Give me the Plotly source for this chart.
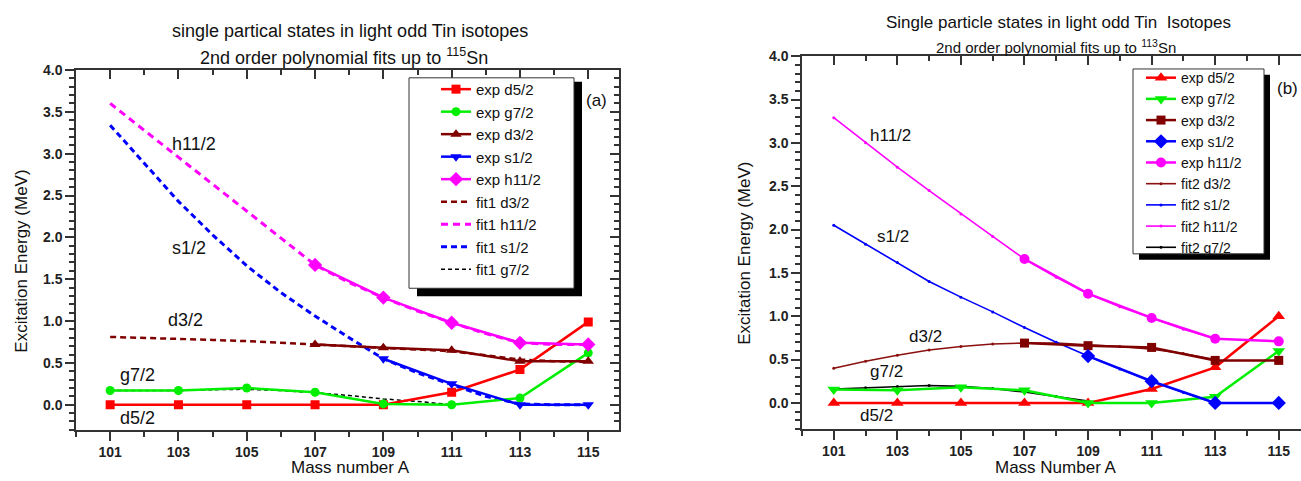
import plotly.graph_objects as go

W, H = 1301, 481

# ---------------- Panel (a) data ----------------
A_exp = [101, 103, 105, 107, 109, 111, 113, 115]
a_exp_d52 = [0.0, 0.0, 0.0, 0.0, 0.0, 0.15, 0.42, 0.99]
a_exp_g72 = [0.17, 0.17, 0.20, 0.15, 0.01, 0.0, 0.08, 0.62]
A_d32 = [107, 109, 111, 113, 115]
a_exp_d32 = [0.72, 0.68, 0.65, 0.52, 0.52]
A_s12 = [109, 111, 113, 115]
a_exp_s12 = [0.55, 0.25, 0.0, 0.0]
A_h112 = [107, 109, 111, 113, 115]
a_exp_h112 = [1.67, 1.28, 0.98, 0.74, 0.72]

A_fit1 = [101, 102, 103, 104, 105, 106, 107, 108, 109, 110, 111, 112, 113, 114, 115]
a_fit1_d32 = [0.81, 0.80, 0.79, 0.775, 0.76, 0.74, 0.72, 0.70, 0.68, 0.66, 0.64, 0.59, 0.54, 0.52, 0.51]
a_fit1_h112 = [3.60, 3.28, 2.96, 2.64, 2.32, 2.00, 1.67, 1.46, 1.28, 1.12, 0.98, 0.85, 0.74, 0.72, 0.72]
a_fit1_s12 = [3.34, 2.88, 2.43, 2.03, 1.66, 1.34, 1.06, 0.80, 0.55, 0.38, 0.24, 0.10, 0.01, 0.0, 0.0]
A_fit1_g72 = [101, 102, 103, 104, 105, 106, 107, 108, 109, 110, 111]
a_fit1_g72 = [0.17, 0.17, 0.17, 0.18, 0.185, 0.17, 0.145, 0.11, 0.07, 0.04, 0.0]

# ---------------- Panel (b) data ----------------
b_exp_d52 = [0.0, 0.0, 0.0, 0.0, 0.0, 0.16, 0.41, 1.0]
b_exp_g72 = [0.155, 0.145, 0.18, 0.145, 0.0, 0.0, 0.07, 0.60]
b_exp_d32 = [0.69, 0.66, 0.64, 0.49, 0.49]
b_exp_s12 = [0.54, 0.25, 0.0, 0.0]
b_exp_h112 = [1.66, 1.26, 0.98, 0.74, 0.71]

A_fit2 = [101, 102, 103, 104, 105, 106, 107, 108, 109, 110, 111, 112, 113]
b_fit2_d32 = [0.40, 0.48, 0.55, 0.61, 0.65, 0.68, 0.69, 0.69, 0.67, 0.65, 0.62, 0.57, 0.50]
b_fit2_s12 = [2.05, 1.83, 1.62, 1.40, 1.22, 1.05, 0.87, 0.70, 0.54, 0.39, 0.25, 0.12, 0.0]
b_fit2_h112 = [3.29, 3.00, 2.72, 2.45, 2.18, 1.92, 1.66, 1.45, 1.26, 1.11, 0.98, 0.85, 0.74]
A_fit2_g72 = [101, 102, 103, 104, 105, 106, 107, 108, 109]
b_fit2_g72 = [0.16, 0.175, 0.19, 0.20, 0.19, 0.165, 0.125, 0.075, 0.02]

labels = ["h11/2", "s1/2", "d3/2", "g7/2", "d5/2"]
a_label_x = [103.45, 103.3, 103.2, 101.8, 101.8]
a_label_y = [3.12, 1.87, 1.01, 0.36, -0.16]
b_label_x = [102.8, 102.85, 103.9, 102.65, 102.35]
b_label_y = [3.08, 1.92, 0.77, 0.36, -0.14]

RED, GREEN, DRED, BLUE, MAG = "#ff0000", "#00ee00", "#800000", "#0000ff", "#ff00ff"
FONT = "Liberation Sans, Arial, sans-serif"
TXT = "#111111"


def px(x):
    return x / W


def py(y):
    return 1 - y / H


fig = go.Figure()


def add_a(x, y, name, color, sym=None, dash=None, width=2.5, msize=9):
    mode = "lines+markers" if sym else "lines"
    tr = go.Scatter(x=x, y=y, name=name, mode=mode, xaxis="x", yaxis="y",
                    legend="legend", line=dict(color=color, width=width, dash=dash))
    if sym:
        tr.marker = dict(symbol=sym, size=msize, color=color)
    fig.add_trace(tr)


add_a(A_fit1, a_fit1_d32, "fit1 d3/2", DRED, dash="6px,4px", width=2.5)
add_a(A_fit1, a_fit1_h112, "fit1 h11/2", MAG, dash="7px,5px", width=3)
add_a(A_fit1, a_fit1_s12, "fit1 s1/2", BLUE, dash="6px,4px", width=3)
add_a(A_fit1_g72, a_fit1_g72, "fit1 g7/2", "#000000", dash="4px,3px", width=1.5)
add_a(A_exp, a_exp_d52, "exp d5/2", RED, sym="square", msize=9)
add_a(A_exp, a_exp_g72, "exp g7/2", GREEN, sym="circle", msize=9)
add_a(A_d32, a_exp_d32, "exp d3/2", DRED, sym="triangle-up", msize=10)
add_a(A_s12, a_exp_s12, "exp s1/2", BLUE, sym="triangle-down", msize=10)
add_a(A_h112, a_exp_h112, "exp h11/2", MAG, sym="diamond", msize=11)


def add_b(x, y, name, color, sym=None, width=2.5, msize=10, fit=False):
    if fit:
        tr = go.Scatter(x=x, y=y, name=name, mode="lines+markers", xaxis="x2", yaxis="y2",
                        legend="legend2", line=dict(color=color, width=1.6),
                        marker=dict(symbol="circle", size=3, color=color))
    else:
        tr = go.Scatter(x=x, y=y, name=name, mode="lines+markers", xaxis="x2", yaxis="y2",
                        legend="legend2", line=dict(color=color, width=width),
                        marker=dict(symbol=sym, size=msize, color=color))
    fig.add_trace(tr)


add_b(A_fit2, b_fit2_d32, "fit2 d3/2", "#8b1010", fit=True)
add_b(A_fit2, b_fit2_s12, "fit2 s1/2", BLUE, fit=True)
add_b(A_fit2, b_fit2_h112, "fit2 h11/2", MAG, fit=True)
add_b(A_fit2_g72, b_fit2_g72, "fit2 g7/2", "#000000", fit=True)
add_b(A_exp, b_exp_d52, "exp d5/2", RED, sym="triangle-up", msize=11)
add_b(A_exp, b_exp_g72, "exp g7/2", GREEN, sym="triangle-down", msize=11)
add_b(A_d32, b_exp_d32, "exp d3/2", DRED, sym="square", msize=9)
add_b(A_s12, b_exp_s12, "exp s1/2", BLUE, sym="diamond", msize=11)
add_b(A_h112, b_exp_h112, "exp h11/2", MAG, sym="circle", msize=10)

order_a = ["exp d5/2", "exp g7/2", "exp d3/2", "exp s1/2", "exp h11/2",
           "fit1 d3/2", "fit1 h11/2", "fit1 s1/2", "fit1 g7/2"]
order_b = ["exp d5/2", "exp g7/2", "exp d3/2", "exp s1/2", "exp h11/2",
           "fit2 d3/2", "fit2 s1/2", "fit2 h11/2", "fit2 g7/2"]
for tr in fig.data:
    if tr.legend == "legend":
        tr.legendrank = 100 + order_a.index(tr.name)
    else:
        tr.legendrank = 100 + order_b.index(tr.name)

# empty traces so the overlay axes (inside ticks on top / right) get drawn
fig.add_trace(go.Scatter(x=[], y=[], xaxis="x3", yaxis="y3", showlegend=False, hoverinfo="skip"))
fig.add_trace(go.Scatter(x=[], y=[], xaxis="x4", yaxis="y4", showlegend=False, hoverinfo="skip"))

tickfont = dict(family=FONT, size=14, color="#222222", weight="bold")

a_dom_x = [px(76), px(619)]
a_dom_y = [py(429), py(63)]
b_dom_x = [px(802), 1.0]
b_dom_y = [py(428), py(49)]
a_xr = [100, 115.9]
b_xr = [100, 115.7]
yr = [-0.3, 4.0]
AX = "#333333"


def xaxis(dom, rng, anchor):
    return dict(domain=dom, range=rng, anchor=anchor, tick0=101, dtick=2,
                ticks="outside", ticklen=9, tickwidth=1.5, tickcolor=AX,
                showline=True, mirror=True, linecolor=AX, linewidth=1.5, showgrid=False,
                zeroline=False, tickfont=dict(tickfont, size=14),
                minor=dict(tick0=100, dtick=1, ticks="outside", ticklen=5, tickcolor=AX))


def yaxis(dom, anchor, mirror):
    return dict(domain=dom, range=yr, anchor=anchor, tick0=0, dtick=0.5, tickformat=".1f",
                ticks="outside", ticklen=9, tickwidth=1.5, tickcolor=AX,
                showline=True, mirror=mirror, linecolor=AX, linewidth=1.5, showgrid=False,
                zeroline=False, tickfont=tickfont,
                minor=dict(tick0=0, dtick=0.1, ticks="outside", ticklen=5, tickcolor=AX))


def top_axis(over, anchor, rng):
    return dict(overlaying=over, anchor=anchor, side="top", range=rng, tick0=101, dtick=2,
                ticks="inside", ticklen=9, tickwidth=1.5, tickcolor=AX, showticklabels=False,
                showline=False, showgrid=False, zeroline=False,
                minor=dict(tick0=100, dtick=1, ticks="inside", ticklen=5, tickcolor=AX))


fig.update_layout(
    width=W, height=H,
    margin=dict(l=0, r=0, t=0, b=0),
    paper_bgcolor="white", plot_bgcolor="white",
    font=dict(family=FONT, color=TXT),
    xaxis=xaxis(a_dom_x, a_xr, "y"),
    yaxis=yaxis(a_dom_y, "x", True),
    xaxis2=xaxis(b_dom_x, b_xr, "y2"),
    yaxis2=yaxis(b_dom_y, "x2", False),
    xaxis3=top_axis("x", "y3", a_xr),
    yaxis3=dict(overlaying="y", anchor="x3", side="right", range=yr, dtick=0.5, tick0=0,
                ticks="inside", ticklen=9, tickwidth=1.5, tickcolor=AX, showticklabels=False,
                showline=False, showgrid=False, zeroline=False,
                minor=dict(tick0=0, dtick=0.1, ticks="inside", ticklen=5, tickcolor=AX)),
    xaxis4=top_axis("x2", "y4", b_xr),
    yaxis4=dict(overlaying="y2", anchor="x4", side="right", range=yr, visible=False),
    legend=dict(x=px(436), y=py(66), xanchor="left", yanchor="top",
                bgcolor="rgba(0,0,0,0)", borderwidth=0, tracegroupgap=0,
                font=dict(family=FONT, size=15, color=TXT), traceorder="normal"),
    legend2=dict(x=px(1141), y=py(55), xanchor="left", yanchor="top",
                 bgcolor="rgba(0,0,0,0)", borderwidth=0, tracegroupgap=0,
                 font=dict(family=FONT, size=14, color=TXT), traceorder="normal"),
    showlegend=True,
)

shapes = [
    dict(type="rect", xref="paper", yref="paper", x0=px(417), x1=px(582), y0=py(293), y1=py(75),
         fillcolor="black", line=dict(width=0), layer="above"),
    dict(type="rect", xref="paper", yref="paper", x0=px(409), x1=px(574), y0=py(285), y1=py(71),
         fillcolor="white", line=dict(color=AX, width=1), layer="above"),
    dict(type="rect", xref="paper", yref="paper", x0=px(1139), x1=px(1270), y0=py(256), y1=py(68),
         fillcolor="black", line=dict(width=0), layer="above"),
    dict(type="rect", xref="paper", yref="paper", x0=px(1133), x1=px(1264), y0=py(250), y1=py(62),
         fillcolor="white", line=dict(color=AX, width=1), layer="above"),
]
fig.update_layout(shapes=shapes)

ann = []
for t, x, y in zip(labels, a_label_x, a_label_y):
    ann.append(dict(text=t, x=x, y=y, xref="x", yref="y", showarrow=False,
                    xanchor="center", yanchor="middle", font=dict(family=FONT, size=18, color=TXT)))
for t, x, y in zip(labels, b_label_x, b_label_y):
    ann.append(dict(text=t, x=x, y=y, xref="x2", yref="y2", showarrow=False,
                    xanchor="center", yanchor="middle", font=dict(family=FONT, size=17, color=TXT)))


def pann(text, x, y, size, angle=0):
    ann.append(dict(text=text, x=px(x), y=py(y), xref="paper", yref="paper", showarrow=False,
                    xanchor="center", yanchor="middle", textangle=angle,
                    font=dict(family=FONT, size=size, color=TXT)))


pann("single partical states in light odd Tin isotopes", 350, 23, 18)
pann("2nd order polynomial fits up to <sup>115</sup>Sn", 344, 49, 18)
pann("Single particle states in light odd Tin  Isotopes", 1058, 15, 17)
pann("2nd order polynomial fits up to <sup>113</sup>Sn", 1056, 39, 15)
pann("Excitation Energy (MeV)", 22, 258, 17, -90)
pann("Excitation Energy (MeV)", 745, 250, 17, -90)
pann("Mass number A", 350, 467, 17)
pann("Mass Number A", 1056, 467, 17)
pann("(a)", 596, 94, 17)
pann("(b)", 1287, 82, 17)
fig.update_layout(annotations=ann)

# remove the page's default body margin so the figure sits at the window's top-left corner
POST = ("document.documentElement.style.margin='0';"
        "document.body.style.margin='0';document.body.style.padding='0';"
        "document.body.style.overflow='hidden';")

fig.write_html("out.html", post_script=POST, config={"displayModeBar": False})
